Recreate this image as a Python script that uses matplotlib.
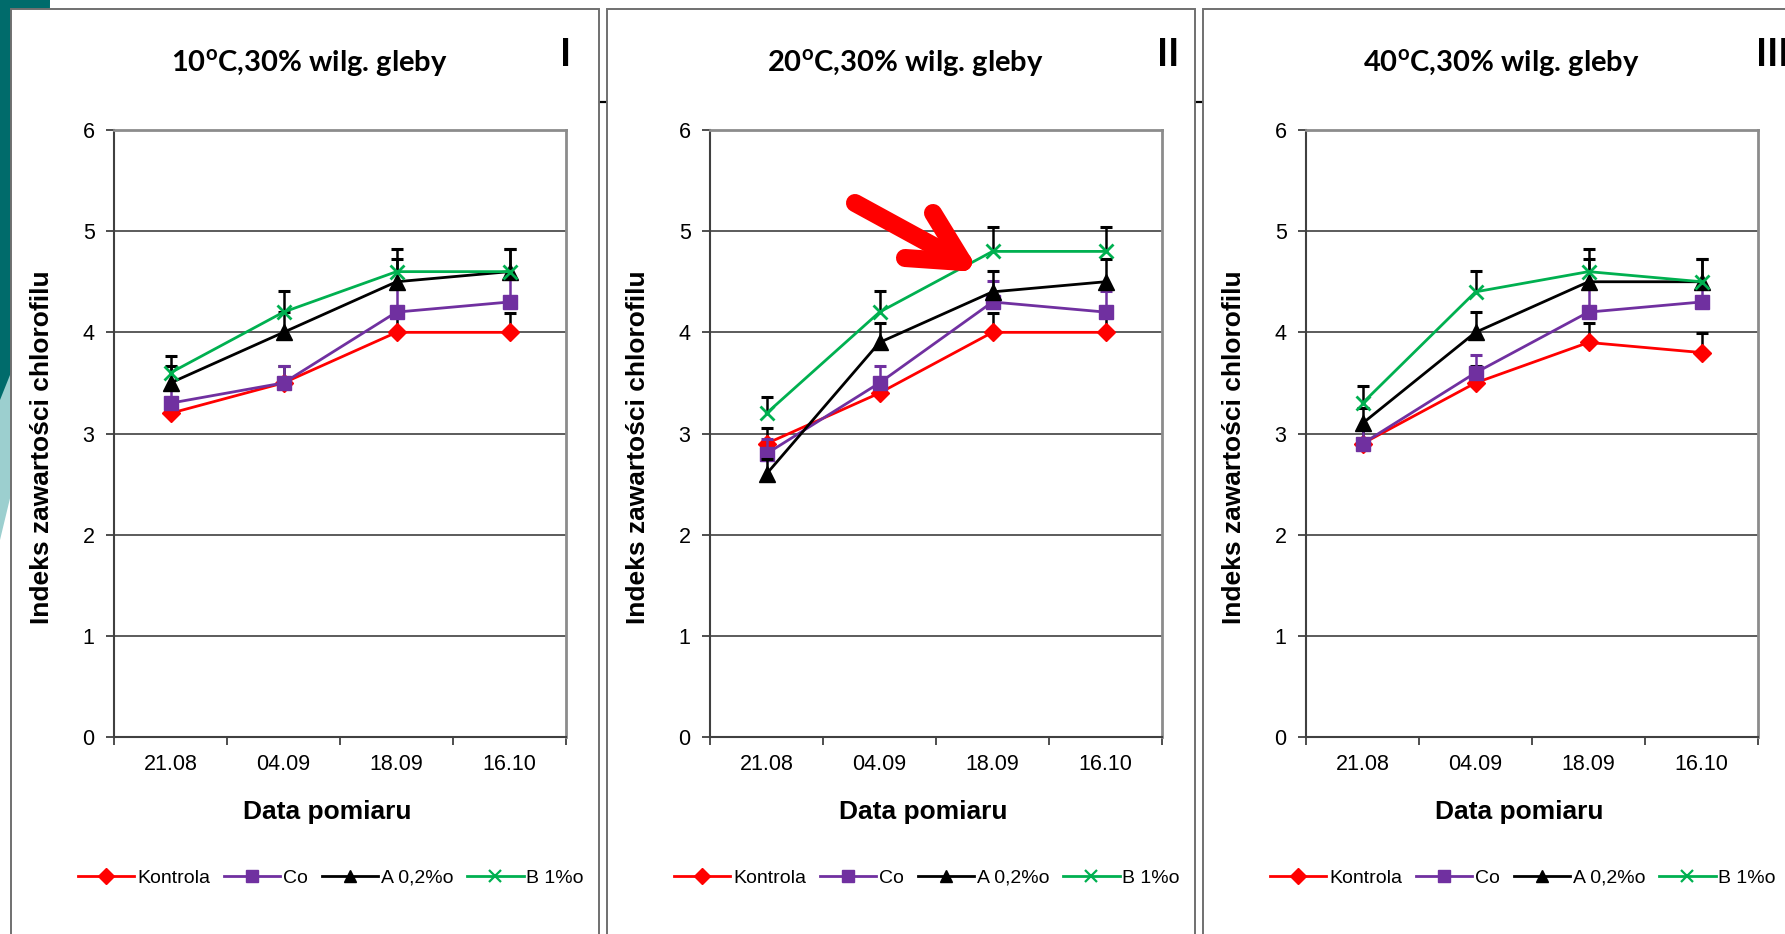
import matplotlib
matplotlib.use('Agg')
import matplotlib.pyplot as plt
from matplotlib.patches import Rectangle, Ellipse, Polygon
from matplotlib.lines import Line2D

plt.rcParams['font.family'] = ['Liberation Sans', 'DejaVu Sans']
plt.rcParams['mathtext.fontset'] = 'custom'
plt.rcParams['mathtext.rm'] = 'Lato:bold'

# dane
dates = ['21.08', '04.09', '18.09', '16.10']
names = ['Kontrola', 'Co', 'A 0,2%o', 'B 1%o']
titles = ['10$^{\\mathrm{o}}$C,30% wilg. gleby',
          '20$^{\\mathrm{o}}$C,30% wilg. gleby',
          '40$^{\\mathrm{o}}$C,30% wilg. gleby']
numerals = ['I', 'II', 'III']

# panel I (10 C)
kontrola_10 = [3.2, 3.5, 4.0, 4.0]
co_10 = [3.3, 3.5, 4.2, 4.3]
a_10 = [3.5, 4.0, 4.5, 4.6]
b_10 = [3.6, 4.2, 4.6, 4.6]
kontrola_10_err = [0.15, 0.17, 0.20, 0.19]
co_10_err = [0.15, 0.17, 0.25, 0.25]
a_10_err = [0.17, 0.20, 0.22, 0.22]
b_10_err = [0.17, 0.21, 0.22, 0.22]

# panel II (20 C)
kontrola_20 = [2.9, 3.4, 4.0, 4.0]
co_20 = [2.8, 3.5, 4.3, 4.2]
a_20 = [2.6, 3.9, 4.4, 4.5]
b_20 = [3.2, 4.2, 4.8, 4.8]
kontrola_20_err = [0.15, 0.15, 0.19, 0.19]
co_20_err = [0.15, 0.17, 0.21, 0.21]
a_20_err = [0.15, 0.19, 0.21, 0.22]
b_20_err = [0.16, 0.21, 0.24, 0.24]

# panel III (40 C)
kontrola_40 = [2.9, 3.5, 3.9, 3.8]
co_40 = [2.9, 3.6, 4.2, 4.3]
a_40 = [3.1, 4.0, 4.5, 4.5]
b_40 = [3.3, 4.4, 4.6, 4.5]
kontrola_40_err = [0.15, 0.17, 0.19, 0.19]
co_40_err = [0.15, 0.175, 0.25, 0.15]
a_40_err = [0.15, 0.20, 0.22, 0.22]
b_40_err = [0.17, 0.21, 0.22, 0.22]

panels = [
    ([kontrola_10, co_10, a_10, b_10],
     [kontrola_10_err, co_10_err, a_10_err, b_10_err]),
    ([kontrola_20, co_20, a_20, b_20],
     [kontrola_20_err, co_20_err, a_20_err, b_20_err]),
    ([kontrola_40, co_40, a_40, b_40],
     [kontrola_40_err, co_40_err, a_40_err, b_40_err]),
]

colors = ['#FF0000', '#7030A0', '#000000', '#00B050']
err_colors = ['#000000', '#7030A0', '#000000', '#000000']
markers = ['D', 's', '^', 'x']
msizes = [9, 10, 11, 10]

W, H = 1785, 934


def fx(x):
    return x / W


def fy(y):
    return 1 - y / H


fig = plt.figure(figsize=(W / 100, H / 100), dpi=100)

# tlo slajdu
bg = fig.add_axes([0, 0, 1, 1], zorder=0)
bg.set_xlim(0, W)
bg.set_ylim(H, 0)
bg.axis('off')
bg.plot([0, W], [102, 102], color='black', lw=1.6, zorder=0.5)
bg.add_patch(Ellipse((-400, 0), 900, 1840, color='#006B6B', lw=0, zorder=1))
bg.add_patch(Rectangle((0, 0), 12, 400, color='#006B6B', lw=0, zorder=1))
bg.add_patch(Polygon([(0, 400), (12, 370), (12, 490), (0, 540)],
                     closed=True, color='#9CCFCF', lw=0, zorder=1))

step = 596
for i in range(3):
    off = i * step
    bg.add_patch(Rectangle((11 + off, 9), 588, 1000, facecolor='white',
                           edgecolor='#707070', lw=1.4, zorder=3))

    ax = fig.add_axes([fx(114 + off), fy(737), 452 / W, 607 / H], zorder=2)
    x = list(range(len(dates)))
    vals, errs = panels[i]
    for k in range(4):
        z = 3 + k
        tops = [v + e for v, e in zip(vals[k], errs[k])]
        ax.vlines(x, vals[k], tops, color=err_colors[k], lw=1.8, zorder=z)
        ax.plot(x, tops, ls='none', marker='_', ms=8, mew=2.2,
                color=err_colors[k], zorder=z)
        ax.plot(x, vals[k], color=colors[k], lw=2, marker=markers[k],
                ms=msizes[k], mew=2 if markers[k] == 'x' else 1,
                mfc=colors[k], mec=colors[k], label=names[k], zorder=z,
                clip_on=False)

    ax.set_xlim(-0.5, 3.5)
    ax.set_ylim(0, 6)
    ax.set_yticks(range(7))
    ax.set_xticks([-0.5, 0.5, 1.5, 2.5, 3.5])
    ax.set_xticklabels([])
    ax.set_xticks(x, minor=True)
    ax.set_xticklabels(dates, minor=True)
    ax.tick_params(axis='x', which='major', direction='out', length=6,
                   width=1.3, color='#404040')
    ax.tick_params(axis='x', which='minor', length=0, labelsize=15.5, pad=12)
    ax.tick_params(axis='y', direction='out', length=6, width=1.3,
                   color='#404040', labelsize=15.5, pad=8)
    ax.yaxis.grid(True, color='#404040', lw=1.2)
    ax.set_axisbelow(True)
    for s in ['left', 'bottom']:
        ax.spines[s].set_color('#404040')
        ax.spines[s].set_linewidth(1.5)
    for s in ['top', 'right']:
        ax.spines[s].set_color('#8c8c8c')
        ax.spines[s].set_linewidth(2)

    fig.text(fx(309 + off), fy(63), titles[i], fontsize=21,
             family='Lato', weight='bold', ha='center', va='center', zorder=5)
    if i < 2:
        fig.text(fx([566, 1168][i]), fy(55), numerals[i], fontsize=27,
                 family='Lato', weight='bold', ha='center', va='center',
                 zorder=5)
    else:
        fig.text(fx(1756), fy(55), numerals[i], fontsize=27,
                 family='Lato', weight='bold', ha='left', va='center',
                 zorder=5)
    fig.text(fx(42 + off), fy(447), 'Indeks zawartości chlorofilu',
             fontsize=19, weight='bold', rotation=90, ha='center',
             va='center', zorder=5)
    fig.text(fx(327 + off), fy(812), 'Data pomiaru', fontsize=19,
             weight='bold', ha='center', va='center', zorder=5)

    handles = [Line2D([], [], color=colors[k], lw=2, marker=markers[k],
                      ms=msizes[k] * 0.85, mfc=colors[k], mec=colors[k],
                      mew=1.6 if markers[k] == 'x' else 1)
               for k in range(4)]
    leg = fig.legend(handles, names, loc='center',
                     bbox_to_anchor=(fx(331 + off), fy(878)), ncol=4,
                     frameon=False, fontsize=14, handlelength=2.9,
                     handletextpad=0.15, columnspacing=0.7, borderpad=0)
    leg.set_zorder(5)

# czerwona strzalka na panelu II
top = fig.add_axes([0, 0, 1, 1], zorder=10)
top.set_xlim(0, W)
top.set_ylim(H, 0)
top.axis('off')
top.patch.set_alpha(0)
tip = (963, 262)
for start in [(855, 203), (933, 213), (905, 258)]:
    top.plot([start[0], tip[0]], [start[1], tip[1]], color='#FF0000',
             lw=13, solid_capstyle='round')

fig.savefig('out.png', dpi=100)
